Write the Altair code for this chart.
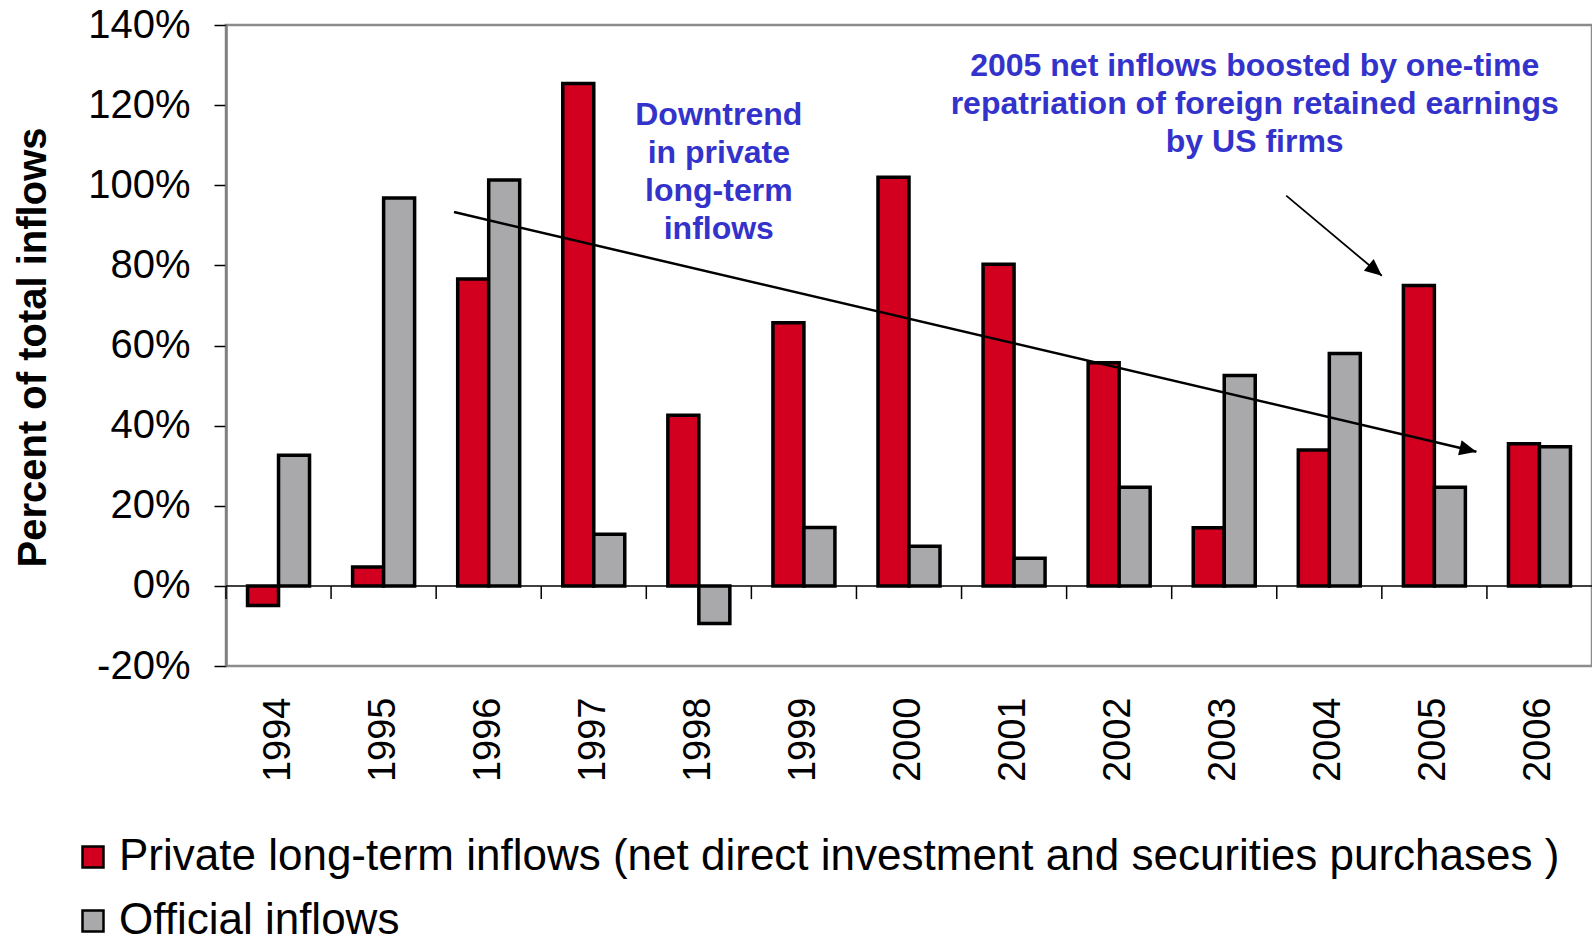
import altair as alt
import pandas as pd

# ---------------- data ----------------
years = ["1994", "1995", "1996", "1997", "1998", "1999", "2000",
         "2001", "2002", "2003", "2004", "2005", "2006"]
private_vals = [-4.9, 4.7, 76.6, 125.4, 42.6, 65.7, 102.0, 80.3, 55.7, 14.5, 33.9, 75.0, 35.5]
official_vals = [32.6, 96.8, 101.3, 12.9, -9.4, 14.6, 9.9, 6.9, 24.6, 52.5, 58.0, 24.6, 34.7]
series_names = ["Private long-term inflows (net direct investment and securities purchases )",
                "Official inflows"]
series_colors = ["#D2001E", "#A9A9AB"]
y_ticks = [-20, 0, 20, 40, 60, 80, 100, 120, 140]

# annotation anchors, in category units (0..13 from left edge) and percent
trend_x = [2.17, 11.90]
trend_y = [93.3, 33.5]
note_arrow_x = [10.09, 11.0]
note_arrow_y = [97.4, 77.4]

note1_lines = ["Downtrend", "in private", "long-term", "inflows"]
note1_x = 4.69
note1_y = [115.1, 105.5, 96.0, 86.6]
note2_lines = ["2005 net inflows boosted by one-time",
               "repatriation of foreign retained earnings",
               "by US firms"]
note2_x = 9.79
note2_y = [127.3, 117.8, 108.4]

FONT = "Liberation Sans"
ARROW = "M0,0L-1,-0.45L-1,0.45Z"

bars_df = pd.DataFrame({
    "year": years * 2,
    "series": [series_names[0]] * len(years) + [series_names[1]] * len(years),
    "value": private_vals + official_vals,
})
ticks_df = pd.DataFrame({"year": years})
trend_df = pd.DataFrame({"xu": [trend_x[0]], "xu2": [trend_x[1]],
                         "value": [trend_y[0]], "value2": [trend_y[1]]})
trend_head = pd.DataFrame({"xu": [trend_x[1]], "value": [trend_y[1]]})
note_df = pd.DataFrame({"xu": [note_arrow_x[0]], "xu2": [note_arrow_x[1]],
                        "value": [note_arrow_y[0]], "value2": [note_arrow_y[1]]})
note_head = pd.DataFrame({"xu": [note_arrow_x[1]], "value": [note_arrow_y[1]]})
text_df = pd.DataFrame({
    "txt": note1_lines + note2_lines,
    "xu": [note1_x] * len(note1_lines) + [note2_x] * len(note2_lines),
    "value": note1_y + note2_y,
})

YTITLE = "Percent of total inflows"
yscale = alt.Scale(domain=[-20, 140], nice=False, zero=False)
xq_scale = alt.Scale(domain=[0, 13], nice=False, zero=False)
xband = alt.Scale(paddingInner=0, paddingOuter=0)

zero_line = alt.Chart(pd.DataFrame({"value": [0]})).mark_rule(
    color="black", strokeWidth=1.5
).encode(y=alt.Y("value:Q", scale=yscale, title=YTITLE))

bars = alt.Chart(bars_df).mark_bar(stroke="black", strokeWidth=3.5, strokeJoin="miter").encode(
    x=alt.X("year:N", sort=years, scale=xband,
            axis=alt.Axis(title=None, labelAngle=-90, labelFontSize=38, labelFont=FONT,
                          labelColor="black", ticks=False, tickSize=0, domain=False,
                          labelPadding=31, grid=False)),
    xOffset=alt.XOffset("series:N", sort=series_names,
                        scale=alt.Scale(paddingInner=0, paddingOuter=0.695)),
    y=alt.Y("value:Q", scale=yscale, title=YTITLE,
            axis=alt.Axis(values=y_ticks, labelExpr="datum.value + '%'", grid=False,
                          labelFontSize=40, labelFont=FONT, labelColor="black",
                          labelPadding=24, tickSize=12, tickColor="black", tickWidth=1.5,
                          domainColor="#7f7f7f", domainWidth=2.5,
                          titleFont=FONT, titleFontSize=40, titleFontWeight="bold",
                          titleColor="black", titleAngle=-90, titleX=-181, titleY=322,
                          titleBaseline="alphabetic", titleAlign="center")),
    color=alt.Color("series:N", sort=series_names,
                    scale=alt.Scale(domain=series_names, range=series_colors),
                    legend=alt.Legend(orient="none", legendX=-155, legendY=810, title=None,
                                      symbolType="square", symbolSize=441,
                                      symbolStrokeColor="black", symbolStrokeWidth=2.5,
                                      labelFontSize=44, labelFont=FONT, labelColor="black",
                                      rowPadding=20, labelOffset=4, labelLimit=2000,
                                      padding=0, direction="vertical")),
)

band_ticks = alt.Chart(ticks_df).mark_rule(color="black", strokeWidth=1.5).encode(
    x=alt.X("year:N", sort=years, scale=xband, bandPosition=0, axis=None),
    y=alt.datum(0),
    y2=alt.datum(-3.3),
)

trend = alt.Chart(trend_df).mark_rule(color="black", strokeWidth=2.5).encode(
    x=alt.X("xu:Q", scale=xq_scale, axis=None), x2="xu2:Q",
    y=alt.Y("value:Q", scale=yscale, title=YTITLE), y2="value2:Q",
)
trend_arrow = alt.Chart(trend_head).mark_point(
    shape=ARROW, size=1156, filled=True, color="black", opacity=1, strokeWidth=0, angle=13.2
).encode(x=alt.X("xu:Q", scale=xq_scale, axis=None),
         y=alt.Y("value:Q", scale=yscale, title=YTITLE))

note_line = alt.Chart(note_df).mark_rule(color="black", strokeWidth=1.8).encode(
    x=alt.X("xu:Q", scale=xq_scale, axis=None), x2="xu2:Q",
    y=alt.Y("value:Q", scale=yscale, title=YTITLE), y2="value2:Q",
)
note_arrow = alt.Chart(note_head).mark_point(
    shape=ARROW, size=1156, filled=True, color="black", opacity=1, strokeWidth=0, angle=39.8
).encode(x=alt.X("xu:Q", scale=xq_scale, axis=None),
         y=alt.Y("value:Q", scale=yscale, title=YTITLE))

texts = alt.Chart(text_df).mark_text(
    font=FONT, fontWeight="bold", fontSize=32, color="#3333CC",
    align="center", baseline="alphabetic"
).encode(x=alt.X("xu:Q", scale=xq_scale, axis=None),
         y=alt.Y("value:Q", scale=yscale, title=YTITLE),
         text="txt:N")

chart = alt.layer(
    zero_line, bars, band_ticks, trend, trend_arrow, note_line, note_arrow, texts
).resolve_scale(x="independent").properties(
    width=1366, height=641,
    padding={"left": 226, "top": 25, "right": 0, "bottom": 273},
    autosize=alt.AutoSizeParams(type="none"),
    background="white",
).configure_view(stroke="#8c8c8c", strokeWidth=2.5)

chart.save("out.html", embed_options={"renderer": "svg", "actions": False})
